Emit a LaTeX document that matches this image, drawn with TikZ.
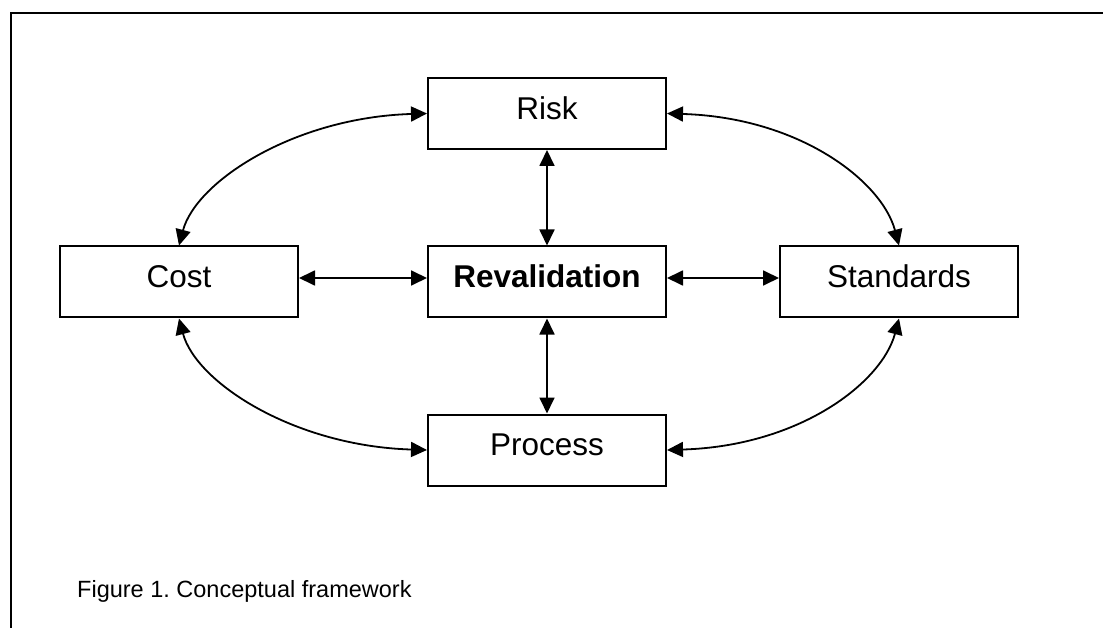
\documentclass[tikz,border=0pt]{standalone}
\usepackage{fontspec}
\setmainfont{Liberation Sans}
\usetikzlibrary{arrows.meta}
\frenchspacing
\begin{document}
\begin{tikzpicture}[x=1pt,y=-1pt,
  box/.style={draw, line width=2pt, rectangle, minimum width=238pt, minimum height=71pt,
    inner sep=0pt, text height=22.5pt, text depth=11pt,
    font=\fontsize{31.5}{36}\selectfont},
  link/.style={line width=1.8pt, {Triangle[length=16pt,width=15pt]}-{Triangle[length=16pt,width=15pt]}}]
\useasboundingbox (0,0) rectangle (1103,628);
\draw[line width=2.4pt] (11,628) -- (11,13) -- (1110,13);
\node[box] (risk) at (547,113.5) {Risk};
\node[box] (reval) at (547,282) {\bfseries Revalidation};
\node[box] (cost) at (179,282) {Cost};
\node[box] (std) at (899,282) {Standards};
\node[box] (proc) at (547,450) {Process};
\node[anchor=base west, inner sep=0pt, font=\fontsize{23.5}{28}\selectfont] (cap) at (77,597) {Figure 1.\ Conceptual framework};
\draw[link] (risk.south) -- (reval.north);
\draw[link] (reval.south) -- (proc.north);
\draw[link] ([yshift=4pt]cost.east) -- ([yshift=4pt]reval.west);
\draw[link] ([yshift=4pt]reval.east) -- ([yshift=4pt]std.west);
\draw[link] (risk.west) .. controls +(-133,4) and +(17,-64) .. (cost.north);
\draw[link] (risk.east) .. controls +(133,4) and +(-17,-64) .. (std.north);
\draw[link] (cost.south) .. controls +(17,64) and +(-133,-4) .. (proc.west);
\draw[link] (std.south) .. controls +(-17,64) and +(133,-4) .. (proc.east);
\end{tikzpicture}
\end{document}
